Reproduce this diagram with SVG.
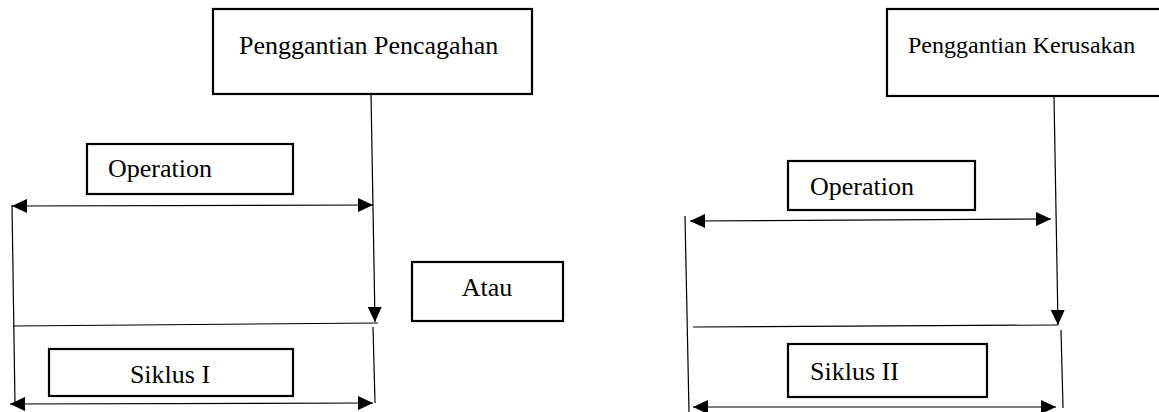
<svg xmlns="http://www.w3.org/2000/svg" width="1159" height="412" viewBox="0 0 1159 412">
  <style>
    .box { fill: #fff; stroke: #000; stroke-width: 2.2; }
    .lbl { font-family: 'Liberation Serif', 'DejaVu Serif', serif; font-size: 26px; fill: #000; }
    .ln { stroke: #000; stroke-width: 1.2; fill: none; }
    .arr { stroke: #000; stroke-width: 1.2; fill: none; marker-end: url(#head); }
    .dbl { stroke: #000; stroke-width: 1.2; fill: none; marker-start: url(#head); marker-end: url(#head); }
  </style>
  <defs>
    <marker id="head" viewBox="0 0 15 14" markerWidth="15" markerHeight="14" refX="15" refY="7" orient="auto-start-reverse" markerUnits="userSpaceOnUse">
      <path d="M0,0 L15,7 L0,14 z" fill="#000"/>
    </marker>
  </defs>
  <rect width="1159" height="412" fill="#fff"/>

  <!-- preventive replacement cycle -->
  <g id="penggantian-pencagahan">
    <rect class="box" x="213" y="9" width="319" height="85"/>
    <text class="lbl" x="239" y="54" font-family="Liberation Serif, serif">Penggantian Pencagahan</text>
  </g>
  <g id="operation-1">
    <rect class="box" x="87" y="144" width="206" height="50"/>
    <text class="lbl" x="108" y="177" font-family="Liberation Serif, serif">Operation</text>
  </g>
  <g id="siklus-1">
    <rect class="box" x="49" y="349" width="244" height="47"/>
    <text class="lbl" x="170" y="383" text-anchor="middle" font-family="Liberation Serif, serif">Siklus I</text>
  </g>

  <g id="atau">
    <rect class="box" x="412" y="262" width="151" height="59"/>
    <text class="lbl" x="487" y="296" text-anchor="middle" font-family="Liberation Serif, serif">Atau</text>
  </g>

  <!-- failure replacement cycle -->
  <g id="penggantian-kerusakan">
    <rect class="box" x="887" y="9" width="280" height="87"/>
    <text class="lbl" x="908" y="53" font-family="Liberation Serif, serif" style="font-size:24px">Penggantian Kerusakan</text>
  </g>
  <g id="operation-2">
    <rect class="box" x="788" y="161" width="187" height="49"/>
    <text class="lbl" x="810" y="195" font-family="Liberation Serif, serif">Operation</text>
  </g>
  <g id="siklus-2">
    <rect class="box" x="788" y="344" width="199" height="53"/>
    <text class="lbl" x="810" y="380" font-family="Liberation Serif, serif">Siklus II</text>
  </g>

  <g id="connectors">
    <!-- left cycle -->
    <path class="dbl" d="M12,206 L373,205"/>
    <path class="ln" d="M12,205 L15,404"/>
    <path class="arr" d="M371,94 L375,322"/>
    <path class="ln" d="M13,326 L378,323"/>
    <path class="ln" d="M373,327 L375,403"/>
    <path class="dbl" d="M10,404 L373,403"/>
    <!-- right cycle -->
    <path class="dbl" d="M690,221 L1051,219"/>
    <path class="ln" d="M685,216 L689,412"/>
    <path class="arr" d="M1054,96 L1058,325"/>
    <path class="ln" d="M693,327 L1058,325"/>
    <path class="ln" d="M1061,330 L1063,408"/>
    <path class="dbl" d="M693,407 L1056,407"/>
  </g>
</svg>
